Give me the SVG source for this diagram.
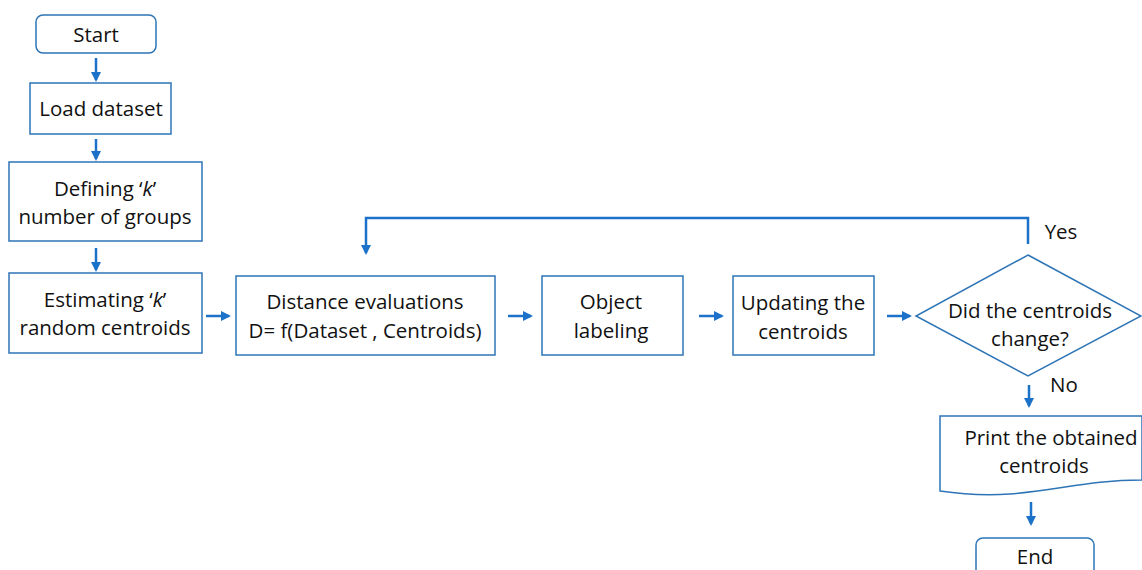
<svg xmlns="http://www.w3.org/2000/svg" width="1142" height="570" viewBox="0 0 1142 570">
<style>
.box{fill:#fff;stroke:#2E75B6;stroke-width:1.5}
.t{font-family:"Open Sans","Liberation Sans",sans-serif;font-size:20.5px;fill:#111;text-anchor:middle}
.c{fill:none;stroke:#1C72C8;stroke-width:2.5}
</style>
<defs>
<marker id="ah" viewBox="0 0 10 10" refX="8" refY="5" markerWidth="4" markerHeight="4" orient="auto" markerUnits="strokeWidth">
<path d="M0,0 L10,5 L0,10 Z" fill="#1C72C8"/>
</marker>
</defs>
<rect width="1142" height="570" fill="#fff"/>
<g id="connectors">
<line class="c" x1="96" y1="58" x2="96" y2="80" marker-end="url(#ah)"/>
<line class="c" x1="96" y1="139" x2="96" y2="159" marker-end="url(#ah)"/>
<line class="c" x1="96" y1="248" x2="96" y2="270" marker-end="url(#ah)"/>
<line class="c" x1="206" y1="316" x2="229" y2="316" marker-end="url(#ah)"/>
<line class="c" x1="508" y1="316" x2="531" y2="316" marker-end="url(#ah)"/>
<line class="c" x1="699" y1="316" x2="722" y2="316" marker-end="url(#ah)"/>
<line class="c" x1="887" y1="316" x2="910" y2="316" marker-end="url(#ah)"/>
<polyline class="c" points="1028,244 1028,218 366,218 366,253" marker-end="url(#ah)"/>
<line class="c" x1="1029" y1="385" x2="1029" y2="406" marker-end="url(#ah)"/>
<line class="c" x1="1031" y1="502" x2="1031" y2="524" marker-end="url(#ah)"/>
</g>
<g id="start"><rect class="box" x="36" y="15" width="120" height="38" rx="7"/><text class="t" x="96" y="42">Start</text></g>
<g id="load"><rect class="box" x="30" y="83" width="141" height="51"/><text class="t" x="101" y="116">Load dataset</text></g>
<g id="define"><rect class="box" x="9" y="162" width="193" height="79"/><text class="t" x="105" y="196">Defining ‘<tspan font-style="italic">k</tspan>’</text><text class="t" x="105" y="224">number of groups</text></g>
<g id="estimate"><rect class="box" x="9" y="273" width="193" height="80"/><text class="t" x="105" y="307">Estimating ‘<tspan font-style="italic">k</tspan>’</text><text class="t" x="105" y="335">random centroids</text></g>
<g id="distance"><rect class="box" x="236" y="276" width="259" height="79"/><text class="t" x="365" y="309">Distance evaluations</text><text class="t" x="365" y="338">D= f(Dataset , Centroids)</text></g>
<g id="label"><rect class="box" x="542" y="276" width="141" height="79"/><text class="t" x="611" y="309">Object</text><text class="t" x="611" y="338">labeling</text></g>
<g id="update"><rect class="box" x="733" y="276" width="141" height="79"/><text class="t" x="803" y="310">Updating the</text><text class="t" x="803" y="339">centroids</text></g>
<g id="decision"><polygon class="box" points="1028,255 1141,316 1028,376 916,316"/><text class="t" x="1030" y="318">Did the centroids</text><text class="t" x="1030" y="346">change?</text></g>
<g id="labels"><text class="t" x="1061" y="239">Yes</text><text class="t" x="1064" y="392">No</text></g>
<g id="print"><path class="box" d="M940,416 H1142 V480 C1090,480 1060,490 1010,494 C980,496 960,494 940,491 Z"/><text class="t" x="1051" y="445">Print the obtained</text><text class="t" x="1044" y="473">centroids</text></g>
<g id="end"><rect class="box" x="976" y="538" width="118" height="45" rx="7"/><text class="t" x="1035" y="564">End</text></g>
</svg>
